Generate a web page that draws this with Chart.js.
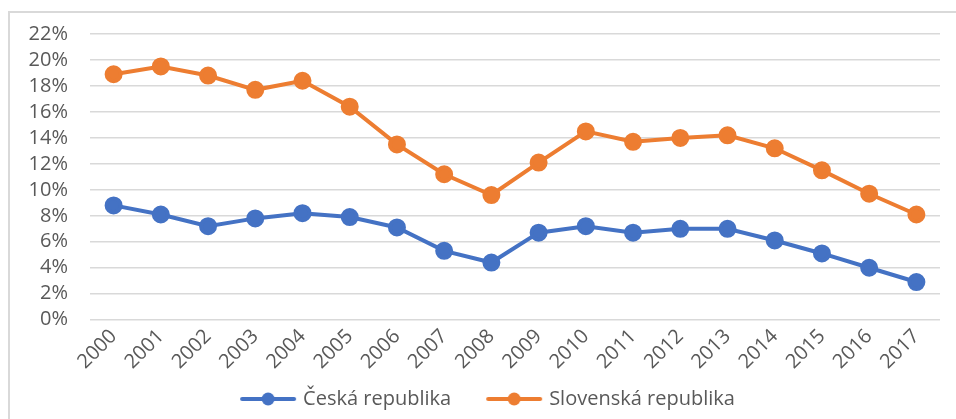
<!DOCTYPE html>
<html>
<head>
<meta charset="utf-8">
<script src="https://cdn.jsdelivr.net/npm/chart.js@4"></script>
<style>
    html, body { margin: 0; padding: 0; background: #fff; }
    #wrap { position: relative; width: 956px; height: 419px; }
    #frame {
        position: absolute; left: 8px; top: 11px; right: 0; bottom: 0;
        border-top: 2px solid #d9d9d9; border-left: 2px solid #d9d9d9;
        pointer-events: none;
    }
</style>
</head>
<body>
<div id="wrap">
    <canvas id="chart" width="956" height="419"></canvas>
    <div id="frame"></div>
</div>
<script>
const years = ['2000', '2001', '2002', '2003', '2004', '2005', '2006', '2007', '2008',
    '2009', '2010', '2011', '2012', '2013', '2014', '2015', '2016', '2017'];

const cesko = [8.8, 8.1, 7.2, 7.8, 8.2, 7.9, 7.1, 5.3, 4.4,
    6.7, 7.2, 6.7, 7.0, 7.0, 6.1, 5.1, 4.0, 2.9];

const slovensko = [18.9, 19.5, 18.8, 17.7, 18.4, 16.4, 13.5, 11.2, 9.6,
    12.1, 14.5, 13.7, 14.0, 14.2, 13.2, 11.5, 9.7, 8.1];

const yTicks = [0, 2, 4, 6, 8, 10, 12, 14, 16, 18, 20, 22];

const blue = '#4472c4';
const orange = '#ed7d31';
const textColor = '#595959';
const gridColor = '#d9d9d9';
const fontFamily = '"Open Sans", sans-serif';
const fontSize = 20;
const legendBox = 78;

// legend marker: line with a dot in the middle, like Excel.
// the box is wider than the line so the items sit further apart
function legendMarker(color) {
    const c = document.createElement('canvas');
    c.width = legendBox + 16;
    c.height = 16;
    const ctx = c.getContext('2d');
    const end = c.width - 5;
    const start = end - 56;
    ctx.strokeStyle = color;
    ctx.lineWidth = 4;
    ctx.lineCap = 'round';
    ctx.beginPath();
    ctx.moveTo(start + 2, 8);
    ctx.lineTo(end - 2, 8);
    ctx.stroke();
    ctx.fillStyle = color;
    ctx.beginPath();
    ctx.arc((start + end) / 2, 8, 6.5, 0, Math.PI * 2);
    ctx.fill();
    return c;
}

const data = {
    labels: years,
    datasets: [
        {
            label: 'Česká republika',
            data: cesko,
            borderColor: blue,
            backgroundColor: blue,
            borderWidth: 4,
            pointRadius: 7,
            pointHoverRadius: 7,
            pointStyle: 'circle',
            tension: 0,
        },
        {
            label: 'Slovenská republika',
            data: slovensko,
            borderColor: orange,
            backgroundColor: orange,
            borderWidth: 4,
            pointRadius: 7,
            pointHoverRadius: 7,
            pointStyle: 'circle',
            tension: 0,
        }
    ]
};

const markers = [legendMarker(blue), legendMarker(orange)];

const config = {
    type: 'line',
    data: data,
    options: {
        responsive: false,
        animation: false,
        layout: {
            padding: { left: 10, right: 16, top: 25, bottom: 0 }
        },
        plugins: {
            tooltip: { enabled: false },
            legend: {
                position: 'bottom',
                labels: {
                    color: textColor,
                    font: { family: fontFamily, size: fontSize },
                    usePointStyle: true,
                    pointStyleWidth: legendBox,
                    boxWidth: legendBox,
                    padding: 10,
                    generateLabels: (chart) => chart.data.datasets.map((ds, i) => ({
                        text: ds.label,
                        fillStyle: ds.borderColor,
                        strokeStyle: ds.borderColor,
                        lineWidth: 0,
                        pointStyle: markers[i],
                        fontColor: textColor,
                        datasetIndex: i,
                        hidden: false,
                    })),
                },
            },
        },
        scales: {
            x: {
                offset: true,
                grid: { display: false, drawTicks: false },
                border: { display: false },
                ticks: {
                    color: textColor,
                    font: { family: fontFamily, size: fontSize },
                    minRotation: 45,
                    maxRotation: 45,
                    padding: 5,
                },
            },
            y: {
                min: 0,
                max: 22,
                afterBuildTicks: (scale) => {
                    scale.ticks = yTicks.map(v => ({ value: v }));
                },
                afterFit: (scale) => { scale.width = 80; },
                grid: {
                    color: gridColor,
                    lineWidth: 1.5,
                    drawTicks: false,
                },
                border: { display: false },
                ticks: {
                    autoSkip: false,
                    color: textColor,
                    font: { family: fontFamily, size: fontSize },
                    padding: 22,
                    callback: (v) => v + '%',
                },
            }
        }
    }
};

const chart = new Chart(document.getElementById('chart'), config);
</script>
</body>
</html>
